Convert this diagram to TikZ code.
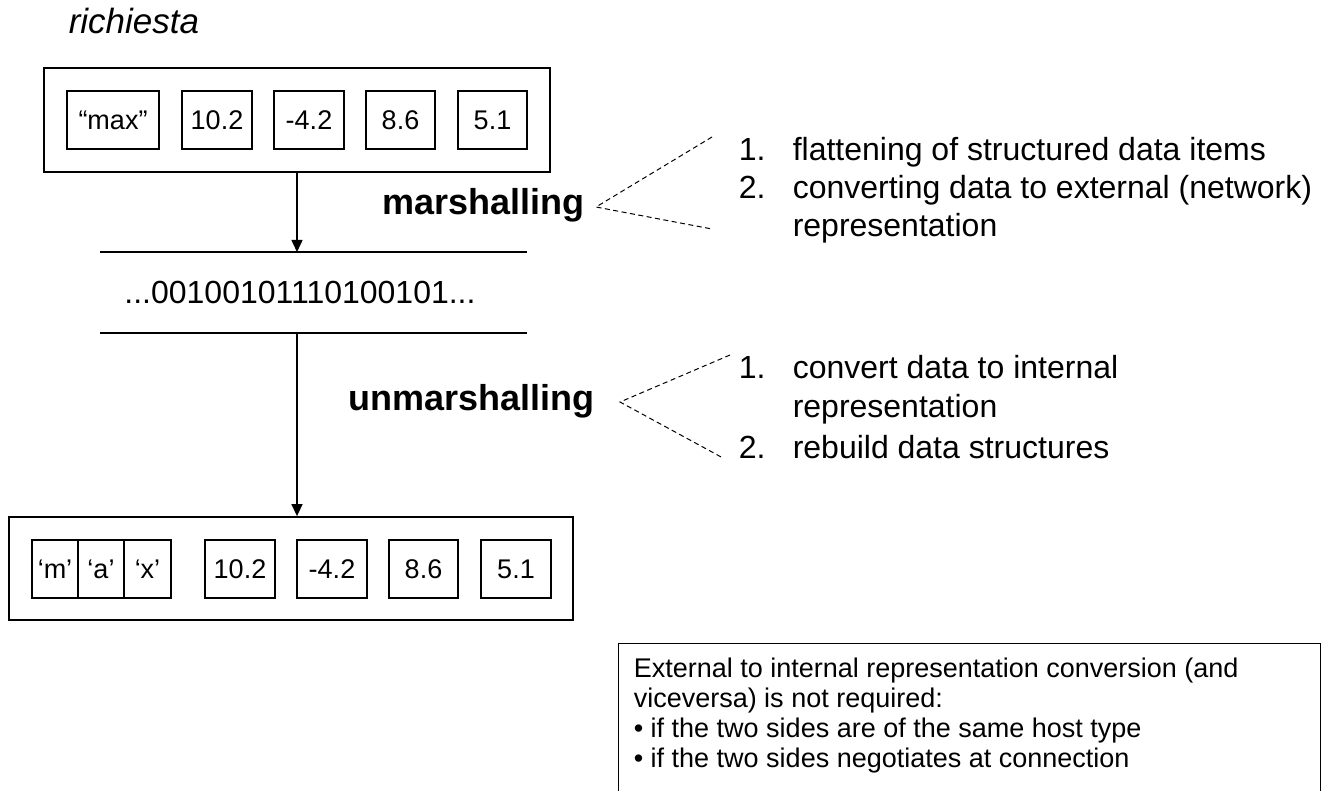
\documentclass[tikz,border=0pt]{standalone}
\usepackage{fontspec}
\setmainfont{Liberation Sans}
\usetikzlibrary{arrows.meta,positioning,calc}

\begin{document}
\begin{tikzpicture}[
    x=1pt,y=-1pt,
    draw=black,
    line width=1.5pt,
    %
    frame/.style={draw=black, rectangle, line width=1.8pt, inner sep=0pt},
    cell/.style={draw=black, rectangle, line width=1.4pt, inner sep=0pt,
                 minimum height=58pt, font=\fontsize{27}{30}\selectfont},
    title/.style={anchor=base west, inner sep=0pt, font=\fontsize{36}{40}\selectfont\bfseries},
    item/.style={anchor=base west, inner sep=0pt, font=\fontsize{32}{36}\selectfont},
    remark/.style={anchor=base west, inner sep=0pt, font=\fontsize{27}{30}\selectfont},
    %
    pre/.style={-{Triangle[length=12pt,width=11pt]}},
    hint/.style={dashed, dash pattern=on 5pt off 3.5pt, line width=1pt}
    ]

    \clip[use as bounding box] (0,0) rectangle (1335,791);

    \node[anchor=base west, inner sep=0pt, font=\fontsize{35}{40}\selectfont\itshape] (req title) at (68,34) {richiesta};

    % request, as sent
    \node[frame, minimum width=506pt, minimum height=104pt] (req) at (297,120) {};
    \node[cell, minimum width=92pt] (r1) at (113,120) {“max”};
    \node[cell, minimum width=70pt] (r2) at (217,120) {10.2};
    \node[cell, minimum width=70pt] (r3) at (309,120) {-4.2};
    \node[cell, minimum width=69pt] (r4) at (400.5,120) {8.6};
    \node[cell, minimum width=69pt] (r5) at (492.5,120) {5.1};

    % byte stream
    \coordinate (s1w) at (100,252);
    \coordinate (s1e) at (527,252);
    \coordinate (s2w) at (100,333);
    \coordinate (s2e) at (527,333);
    \coordinate (s1) at (297,252);
    \coordinate (s2) at (297,333);
    \draw (s1w) -- (s1e);
    \draw (s2w) -- (s2e);
    \node[inner sep=0pt, font=\fontsize{32}{36}\selectfont] (bits) at (300,292) {...00100101110100101...};

    % request, as received
    \node[frame, minimum width=564pt, minimum height=103pt] (res) at (291,568.5) {};
    \node[cell, minimum width=46pt] (c1) at (55,569) {‘m’};
    \node[cell, minimum width=46pt] (c2) at (101,569) {‘a’};
    \node[cell, minimum width=47pt] (c3) at (147.5,569) {‘x’};
    \node[cell, minimum width=70pt] (q2) at (240,569) {10.2};
    \node[cell, minimum width=70pt] (q3) at (332,569) {-4.2};
    \node[cell, minimum width=69pt] (q4) at (423.5,569) {8.6};
    \node[cell, minimum width=70pt] (q5) at (516,569) {5.1};

    \draw[pre] (req.south) -- (s1);
    \draw[pre] (s2) -- (s2 |- res.north);

    % marshalling
    \node[title] (mar) at (382,215) {marshalling};
    \coordinate (ma) at (596,207);
    \coordinate (ma1) at (712,137);
    \coordinate (ma2) at (712,229);
    \draw[hint] (ma1) -- (ma) -- (ma2);
    \node[item] (mn1) at (738,161) {1.};
    \node[item] (mt1) at (792,161) {flattening of structured data items};
    \node[item] (mn2) at (738,199) {2.};
    \node[item] (mt2) at (792,199) {converting data to external (network)};
    \node[item] (mt3) at (792,237) {representation};

    % unmarshalling
    \node[title] (unm) at (348,410) {unmarshalling};
    \coordinate (ua) at (620,402);
    \coordinate (ua1) at (730,355);
    \coordinate (ua2) at (723,458);
    \draw[hint] (ua1) -- (ua) -- (ua2);
    \node[item] (un1) at (738,378) {1.};
    \node[item] (ut1) at (792,378) {convert data to internal};
    \node[item] (ut2) at (792,417) {representation};
    \node[item] (un2) at (738,458) {2.};
    \node[item] (ut3) at (792,458) {rebuild data structures};

    % note
    \node[draw=black, line width=1.4pt, anchor=north west, minimum width=702pt,
          minimum height=200pt] (note) at (618,643) {};
    \node[remark] (nl1) at (633,677) {External to internal representation conversion (and};
    \node[remark] (nl2) at (633,707) {viceversa) is not required:};
    \node[remark] (nl3) at (633,737) {• if the two sides are of the same host type};
    \node[remark] (nl4) at (633,767) {• if the two sides negotiates at connection};

\end{tikzpicture}
\end{document}
